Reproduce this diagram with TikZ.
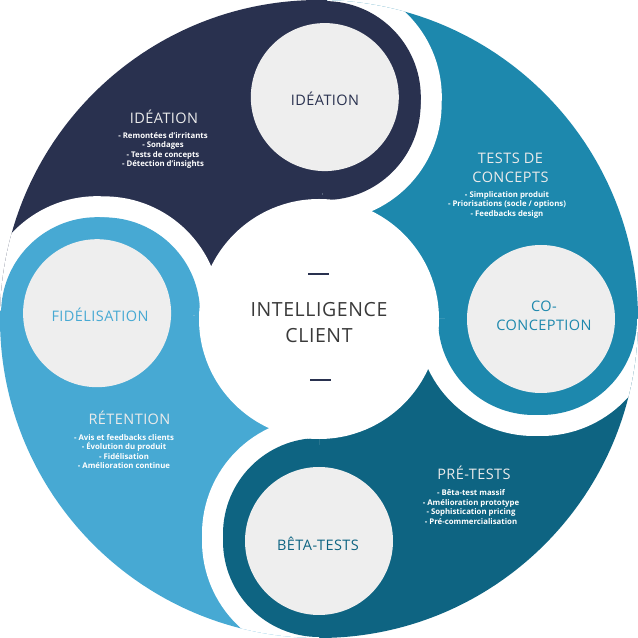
\documentclass[tikz,border=0pt]{standalone}
\usepackage{fontspec}
\setmainfont{Open Sans}
\newfontfamily\spacedfont[LetterSpace=3]{Open Sans}
\usetikzlibrary{calc}
\definecolor{ideaBlue}{HTML}{29314F}
\definecolor{testBlue}{HTML}{1D88AD}
\definecolor{preBlue}{HTML}{0E6482}
\definecolor{fidBlue}{HTML}{47A9D3}
\definecolor{headGrey}{HTML}{EEEEEE}
\definecolor{coreGrey}{HTML}{3A3A3A}
\begin{document}
\begin{tikzpicture}[x=1pt, y=1pt,
  phasetitle/.style={font=\spacedfont\fontsize{14.5}{18.5}\selectfont, text=white!92!black, align=center},
  phaselist/.style={font=\bfseries\fontsize{7.8}{9.6}\selectfont, text=white, align=center},
  headlabel/.style={font=\spacedfont\fontsize{14.5}{19}\selectfont, align=center},
  dashbar/.style={fill=ideaBlue, minimum width=21, minimum height=2, inner sep=0}]
\useasboundingbox (0,0) rectangle (638,638);
\coordinate (O) at (319,319);
\foreach \n/\a in {idea/88.5, conc/0, beta/-90, fid/178.5} {
  \coordinate (h-\n) at ($(O)+(\a:222)$);
  \coordinate (k-\n) at ($(O)+(\a:215)$);
}
\begin{scope}
\clip (O) circle (319);
% tails
\foreach \a/\b/\c in {88.5/178.5/ideaBlue, 178.5/270/fidBlue, -90/0/preBlue, 0/88.5/testBlue}
  \fill[\c] (O) -- +(\a:340) arc[start angle=\a, end angle=\b, radius=340] -- cycle;
% white gap on the clockwise side of each head
\foreach \n/\a/\c in {idea/88.5/ideaBlue, conc/0/testBlue, beta/-90/preBlue, fid/178.5/fidBlue} {
  \begin{scope}
  \clip (O) -- +(\a-90:340) arc[start angle=\a-90, end angle=\a, radius=340] -- cycle;
  \fill[white] (h-\n) circle (117) (k-\n) circle (117);
  \fill[\c] (k-\n) circle (96);
  \end{scope}
}
\fill[white] (O) circle (120);
% heads
\foreach \n/\c in {idea/ideaBlue, conc/testBlue, beta/preBlue, fid/fidBlue} {
  \fill[\c] (h-\n) circle (96);
  \fill[headGrey] (h-\n) circle (74);
}
\end{scope}

\node[headlabel, text=ideaBlue] (idea-label) at (325,539.5) {IDÉATION};
\node[headlabel, text=testBlue] (conc-label) at (544,322.5) {CO-\\CONCEPTION};
\node[headlabel, text=preBlue] (beta-label) at (318,94) {BÊTA-TESTS};
\node[headlabel, text=fidBlue] (fid-label) at (100,323) {FIDÉLISATION};

\node[phasetitle] (idea-title) at (164,521) {IDÉATION};
\node[phaselist] (idea-list) at (163,487.5) {- Remontées d’irritants\\- Sondages\\- Tests de concepts\\- Détection d’insights};
\node[phasetitle] (test-title) at (510.5,470) {TESTS DE\\CONCEPTS};
\node[phaselist] (test-list) at (507,433.3) {- Simplication produit\\- Priorisations (socle / options)\\- Feedbacks design};
\node[phasetitle] (pre-title) at (474,165) {PRÉ-TESTS};
\node[phaselist] (pre-list) at (471,131) {- Bêta-test massif\\- Amélioration prototype\\- Sophistication pricing\\- Pré-commercialisation};
\node[phasetitle] (ret-title) at (129.5,220) {RÉTENTION};
\node[phaselist] (ret-list) at (124,186.5) {- Avis et feedbacks clients\\- Évolution du produit\\- Fidélisation\\- Amélioration continue};

\node[font=\spacedfont\fontsize{19.5}{26}\selectfont, text=coreGrey, align=center] (core) at (319,315) {INTELLIGENCE\\CLIENT};
\node[dashbar] (dash-top) at (318,364) {};
\node[dashbar] (dash-bottom) at (320.5,258) {};
\end{tikzpicture}
\end{document}
